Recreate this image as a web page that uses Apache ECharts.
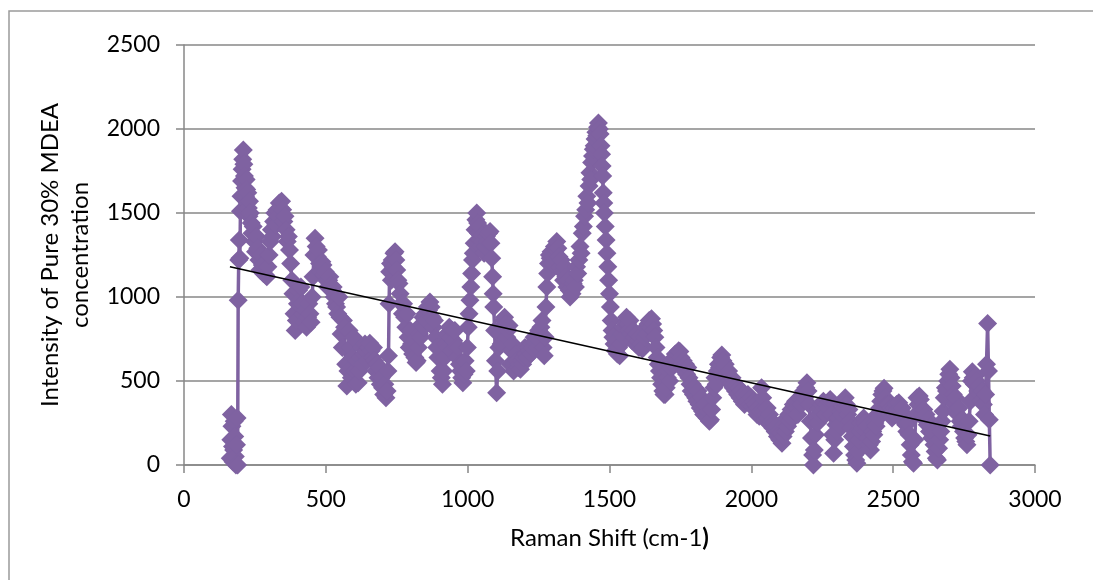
<!DOCTYPE html>
<html>
<head>
<meta charset="utf-8">
<title>Raman spectrum of 30% MDEA</title>
<script src="https://cdn.jsdelivr.net/npm/echarts@6/dist/echarts.min.js"></script>
<style>
  html, body { margin: 0; padding: 0; background: #ffffff; }
  #chart { width: 1093px; height: 580px; }
</style>
</head>
<body>
<div id="chart"></div>
<script>
// Raman shift (cm-1) and measured intensity, in acquisition order
const spectrum = [
  [163,40],[165,150],[167,300],[169,230],[171,110],[173,20],[175,90],[177,260],[179,170],[181,50],[183,0],[185,120],[187,280],[189,0],
  [191,980],[193,1220],[195,1340],[197,1230],[199,1510],[201,1600],[203,1690],[205,1760],[207,1820],[209,1875],
  [211,1790],[213,1720],[215,1650],[217,1600],[219,1700],[221,1640],[223,1560],[225,1620],[227,1530],[229,1480],[231,1570],[234,1500],[237,1440],
  [240,1380],[244,1420],[248,1330],[252,1270],[256,1360],[260,1290],[264,1220],[268,1160],[272,1250],[276,1190],[280,1140],[284,1200],[288,1130],[292,1120],[296,1180],
  [300,1250],[304,1330],[308,1400],[312,1360],[316,1450],[320,1500],[324,1430],[328,1520],[332,1480],[336,1560],[340,1530],[344,1570],[348,1520],[352,1450],[356,1480],[360,1400],[364,1330],[368,1360],[372,1280],[376,1200],[380,1100],[384,1020],
  [388,900],[392,800],[396,860],[400,960],[404,1040],[408,980],[412,1060],[416,960],[420,900],[424,850],[428,920],[432,820],[436,880],[440,960],[444,900],[448,850],[452,1000],
  [455,1120],[458,1250],[462,1350],[466,1300],[470,1240],[474,1280],[478,1200],[482,1150],[486,1210],[490,1190],[494,1130],[498,1150],[502,1100],[506,1060],[510,1100],[514,1120],[518,1070],[522,1040],[526,1060],
  [530,1000],[534,960],[538,940],[542,900],[546,1000],[550,880],[554,780],[558,700],[562,860],[566,820],[570,600],[574,470],[578,560],[582,800],[586,700],[590,520],[594,640],[598,760],[602,560],[606,480],[610,620],[614,490],[618,560],
  [622,640],[626,700],[630,600],[634,660],[638,720],[642,680],[646,620],[650,700],[655,725],[660,680],[664,640],[668,700],[672,620],[676,560],[680,600],[684,520],[688,580],[692,480],[696,520],[700,460],[704,420],[708,480],[712,400],[716,440],[719,560],
  [721,650],[723,960],[725,1150],[728,1200],[731,1100],[734,1220],[737,1180],[740,1260],[744,1270],[747,1220],[750,1160],[754,1100],[758,1080],[762,1020],
  [766,960],[770,900],[774,960],[778,880],[782,820],[786,900],[790,760],[794,700],[798,800],[802,720],[806,660],[810,740],[814,640],[818,610],[822,620],[826,700],
  [830,780],[834,760],[838,840],[842,880],[846,820],[850,900],[854,860],[858,940],[862,920],[867,970],[871,940],[875,880],[879,820],[883,860],[887,760],[891,700],[895,640],[899,700],[903,560],[907,520],[911,480],[915,560],
  [919,640],[923,720],[927,780],[931,700],[935,820],[939,760],[943,680],[947,800],[951,740],[955,800],[959,700],[963,640],[967,700],[971,600],[975,560],[979,520],[983,490],[987,540],[991,620],[995,560],[999,700],
  [1002,820],[1005,900],[1008,980],[1011,1060],[1014,1140],[1017,1220],[1020,1260],[1023,1320],[1026,1400],[1029,1460],[1032,1500],[1035,1440],[1038,1380],[1041,1420],[1044,1340],[1047,1300],[1050,1370],[1054,1330],[1058,1260],[1062,1300],[1066,1360],[1070,1330],[1074,1380],[1079,1390],[1082,1320],[1085,1230],[1088,1120],[1090,1020],[1092,940],[1095,800],[1098,620],[1102,430],[1106,560],
  [1110,700],[1114,780],[1118,720],[1122,820],[1126,860],[1130,880],[1134,840],[1138,760],[1142,800],[1146,830],[1150,600],[1154,680],[1158,720],[1162,560],[1166,600],[1170,660],[1174,620],[1178,580],[1182,600],[1186,570],[1190,620],[1194,600],
  [1198,640],[1202,700],[1206,660],[1210,640],[1214,700],[1218,680],[1222,660],[1226,720],[1230,700],[1234,760],[1238,730],[1242,760],[1246,700],[1250,800],[1254,740],[1258,820],[1262,860],[1266,700],[1270,650],[1273,760],[1276,940],[1279,1060],[1282,1140],[1285,1200],[1288,1250],[1291,1230],[1294,1270],[1298,1200],[1302,1240],[1306,1300],[1310,1280],[1314,1330],[1318,1290],
  [1322,1240],[1326,1180],[1330,1220],[1334,1150],[1338,1100],[1342,1180],[1346,1120],[1350,1060],[1354,1100],[1358,1040],[1361,1000],[1364,1050],[1368,1020],[1372,1080],[1376,1100],[1380,1060],[1384,1180],[1388,1140],[1392,1220],[1396,1300],[1400,1260],[1404,1380],[1408,1420],[1412,1480],[1416,1520],[1420,1600],[1424,1560],[1428,1660],[1431,1740],[1434,1700],[1437,1800],[1440,1840],[1443,1880],[1446,1900],[1449,1940],[1452,1980],[1455,1960],[1458,2010],[1461,2035],
  [1464,2000],[1467,1970],[1470,1900],[1472,1850],[1474,1780],[1476,1720],[1478,1620],[1480,1560],[1482,1500],[1485,1420],[1488,1340],[1491,1260],[1494,1180],[1497,1100],[1500,1020],[1503,940],[1506,860],[1509,800],
  [1512,760],[1516,720],[1520,680],[1524,740],[1528,660],[1532,700],[1536,650],[1540,720],[1544,780],[1548,820],[1552,760],[1556,850],[1560,880],[1564,840],[1568,800],[1572,860],[1576,780],[1580,740],[1584,800],[1588,760],[1592,720],[1596,780],[1600,740],[1604,700],[1608,760],[1612,720],[1616,690],[1620,700],[1624,760],[1628,820],[1632,780],[1636,840],[1640,860],[1644,820],[1648,870],[1652,840],[1656,800],[1660,760],[1664,700],[1668,640],[1672,600],[1676,560],[1680,520],[1684,480],[1688,440],[1692,420],[1696,420],[1700,460],
  [1704,520],[1708,560],[1712,500],[1716,580],[1720,620],[1724,600],[1728,640],[1732,660],[1736,620],[1740,660],[1744,680],[1748,675],[1752,640],[1756,600],[1760,620],[1764,560],[1768,600],[1772,540],[1776,580],[1780,520],[1784,480],[1788,440],
  [1792,480],[1796,420],[1800,460],[1804,400],[1808,380],[1812,440],[1816,360],[1820,340],[1824,400],[1828,320],[1832,300],[1836,360],[1840,290],[1844,280],[1848,320],[1852,260],[1856,270],[1860,330],
  [1864,400],[1868,460],[1872,520],[1876,480],[1880,560],[1884,600],[1888,580],[1892,640],[1896,655],[1900,620],[1904,580],[1908,600],[1912,540],[1916,520],[1920,560],[1924,500],[1928,480],[1932,520],[1936,460],
  [1940,480],[1944,440],[1948,470],[1952,420],[1956,460],[1960,400],[1964,440],[1968,380],[1972,420],[1976,360],[1980,400],[1984,380],[1988,420],[1992,390],[1996,360],[2000,400],[2004,350],[2008,380],[2012,330],[2016,360],[2020,300],[2024,340],[2028,290],[2032,320],[2036,460],[2040,400],[2044,320],[2048,270],[2052,300],[2056,340],[2060,280],[2064,300],[2068,240],[2072,260],[2076,220],[2080,250],[2084,200],[2088,230],[2092,170],[2096,200],[2100,150],
  [2104,190],[2108,130],[2112,170],[2116,240],[2120,200],[2124,280],[2128,230],[2132,300],[2136,260],[2140,330],[2144,280],[2148,360],[2152,320],[2156,380],[2160,340],[2164,300],[2168,360],[2172,400],[2176,360],[2180,420],[2184,440],[2188,400],[2192,460],[2196,490],[2200,440],[2204,360],[2208,260],[2212,160],[2216,60],[2219,0],[2222,90],[2226,180],
  [2230,290],[2234,250],[2238,330],[2242,300],[2246,360],[2250,320],[2254,380],[2258,340],[2262,300],[2266,360],[2270,340],[2274,380],[2278,390],[2282,300],[2286,180],[2290,70],[2294,150],[2298,240],[2302,200],[2306,280],[2310,240],[2314,320],[2318,300],[2322,360],[2326,340],[2331,400],[2335,360],[2340,300],[2344,330],[2348,260],[2352,220],[2356,170],[2360,110],[2364,60],[2368,30],[2372,10],[2376,80],
  [2380,150],[2384,200],[2388,250],[2392,220],[2396,280],[2400,250],[2404,200],[2408,230],[2412,160],[2416,120],[2420,90],[2424,140],[2428,200],[2432,180],[2436,250],[2440,230],[2444,300],[2448,280],[2452,340],[2456,380],[2460,420],[2464,440],[2468,457],[2472,400],[2476,360],
  [2480,330],[2484,360],[2488,300],[2492,340],[2496,280],[2500,310],[2504,340],[2508,300],[2512,360],[2516,330],[2520,370],[2524,340],[2528,300],[2532,340],[2536,260],[2540,300],[2544,240],[2548,200],[2552,250],[2556,180],[2560,120],[2564,60],[2568,20],[2572,10],[2576,150],[2580,300],[2584,400],[2588,360],
  [2592,410],[2596,390],[2600,340],[2604,300],[2608,330],[2612,270],[2616,300],[2620,240],[2624,270],[2628,200],[2632,230],[2636,160],[2640,190],[2644,120],[2648,80],[2652,40],[2656,30],[2660,100],[2664,150],[2668,200],[2672,260],[2676,320],[2680,400],[2684,460],[2688,440],[2692,500],[2696,540],[2700,570],[2704,520],
  [2708,470],[2712,420],[2716,360],[2720,400],[2724,330],[2728,300],[2732,340],[2736,260],[2740,230],[2744,270],[2748,200],[2752,160],[2756,140],[2760,120],[2764,180],[2768,260],[2772,380],[2776,500],[2779,555],[2782,520],[2786,480],[2790,530],[2794,500],[2798,440],[2802,470],[2806,420],[2810,380],[2814,440],[2818,360],[2822,300],[2826,420],[2829,600],[2833,843],[2836,560],[2839,270],[2842,0]
];

// Linear trend line end points (shift, intensity)
const trendLine = [[162, 1180], [2842, 173]];

// Axis ranges and steps
const xRange = [0, 3000];
const xStep = 500;
const yRange = [0, 2500];
const yStep = 500;

const yTitle = 'Intensity of Pure 30% MDEA\nconcentration';
const xTitle = '{a|Raman Shift (cm-1}{b|)}';

const FONT = 'Lato, "Open Sans", sans-serif';
const AXIS_GREY = '#878787';
const PURPLE = '#7F62A1';

const plainNumber = v => String(v);

const chart = echarts.init(document.getElementById('chart'), null, { renderer: 'canvas' });

chart.setOption({
  animation: false,
  backgroundColor: '#ffffff',
  textStyle: { fontFamily: FONT },
  grid: { left: 184, right: 58, top: 45, bottom: 115, containLabel: false },
  graphic: [{
    type: 'rect',
    silent: true,
    shape: { x: 9, y: 11, width: 1300, height: 800 },
    style: { fill: 'none', stroke: '#9a9a9a', lineWidth: 1.5 },
    z: -1
  }],
  xAxis: {
    type: 'value',
    min: xRange[0], max: xRange[1], interval: xStep,
    splitLine: { show: false },
    axisLine: { show: true, onZero: false, lineStyle: { color: AXIS_GREY, width: 1.5 } },
    axisTick: { show: true, inside: false, length: 8, lineStyle: { color: AXIS_GREY, width: 1.5 } },
    axisLabel: { color: '#000', fontSize: 23, margin: 23, fontFamily: FONT, formatter: plainNumber },
    name: xTitle,
    nameLocation: 'middle',
    nameGap: 61,
    nameTextStyle: {
      rich: {
        a: { fontSize: 24, color: '#000', fontFamily: FONT },
        b: { fontSize: 24, color: '#000', fontFamily: FONT, fontWeight: 'bold' }
      }
    }
  },
  yAxis: {
    type: 'value',
    min: yRange[0], max: yRange[1], interval: yStep,
    splitLine: { show: true, lineStyle: { color: AXIS_GREY, width: 1.5 } },
    axisLine: { show: true, lineStyle: { color: AXIS_GREY, width: 1.5 } },
    axisTick: { show: true, inside: false, length: 8, lineStyle: { color: AXIS_GREY, width: 1.5 } },
    axisLabel: { color: '#000', fontSize: 23, margin: 24, fontFamily: FONT, formatter: plainNumber },
    name: yTitle,
    nameLocation: 'middle',
    nameRotate: 90,
    nameGap: 86,
    nameTextStyle: { color: '#000', fontSize: 24, lineHeight: 30, fontFamily: FONT, align: 'center' }
  },
  series: [
    {
      name: 'Intensity',
      type: 'line',
      data: spectrum,
      showAllSymbol: true,
      symbol: 'diamond',
      symbolSize: 19,
      itemStyle: { color: PURPLE, borderWidth: 0 },
      lineStyle: { color: PURPLE, width: 3.5 },
      clip: false,
      z: 2
    },
    {
      name: 'Linear trend',
      type: 'line',
      data: trendLine,
      symbol: 'none',
      lineStyle: { color: '#000', width: 1.6 },
      z: 5
    }
  ]
});
</script>
</body>
</html>
